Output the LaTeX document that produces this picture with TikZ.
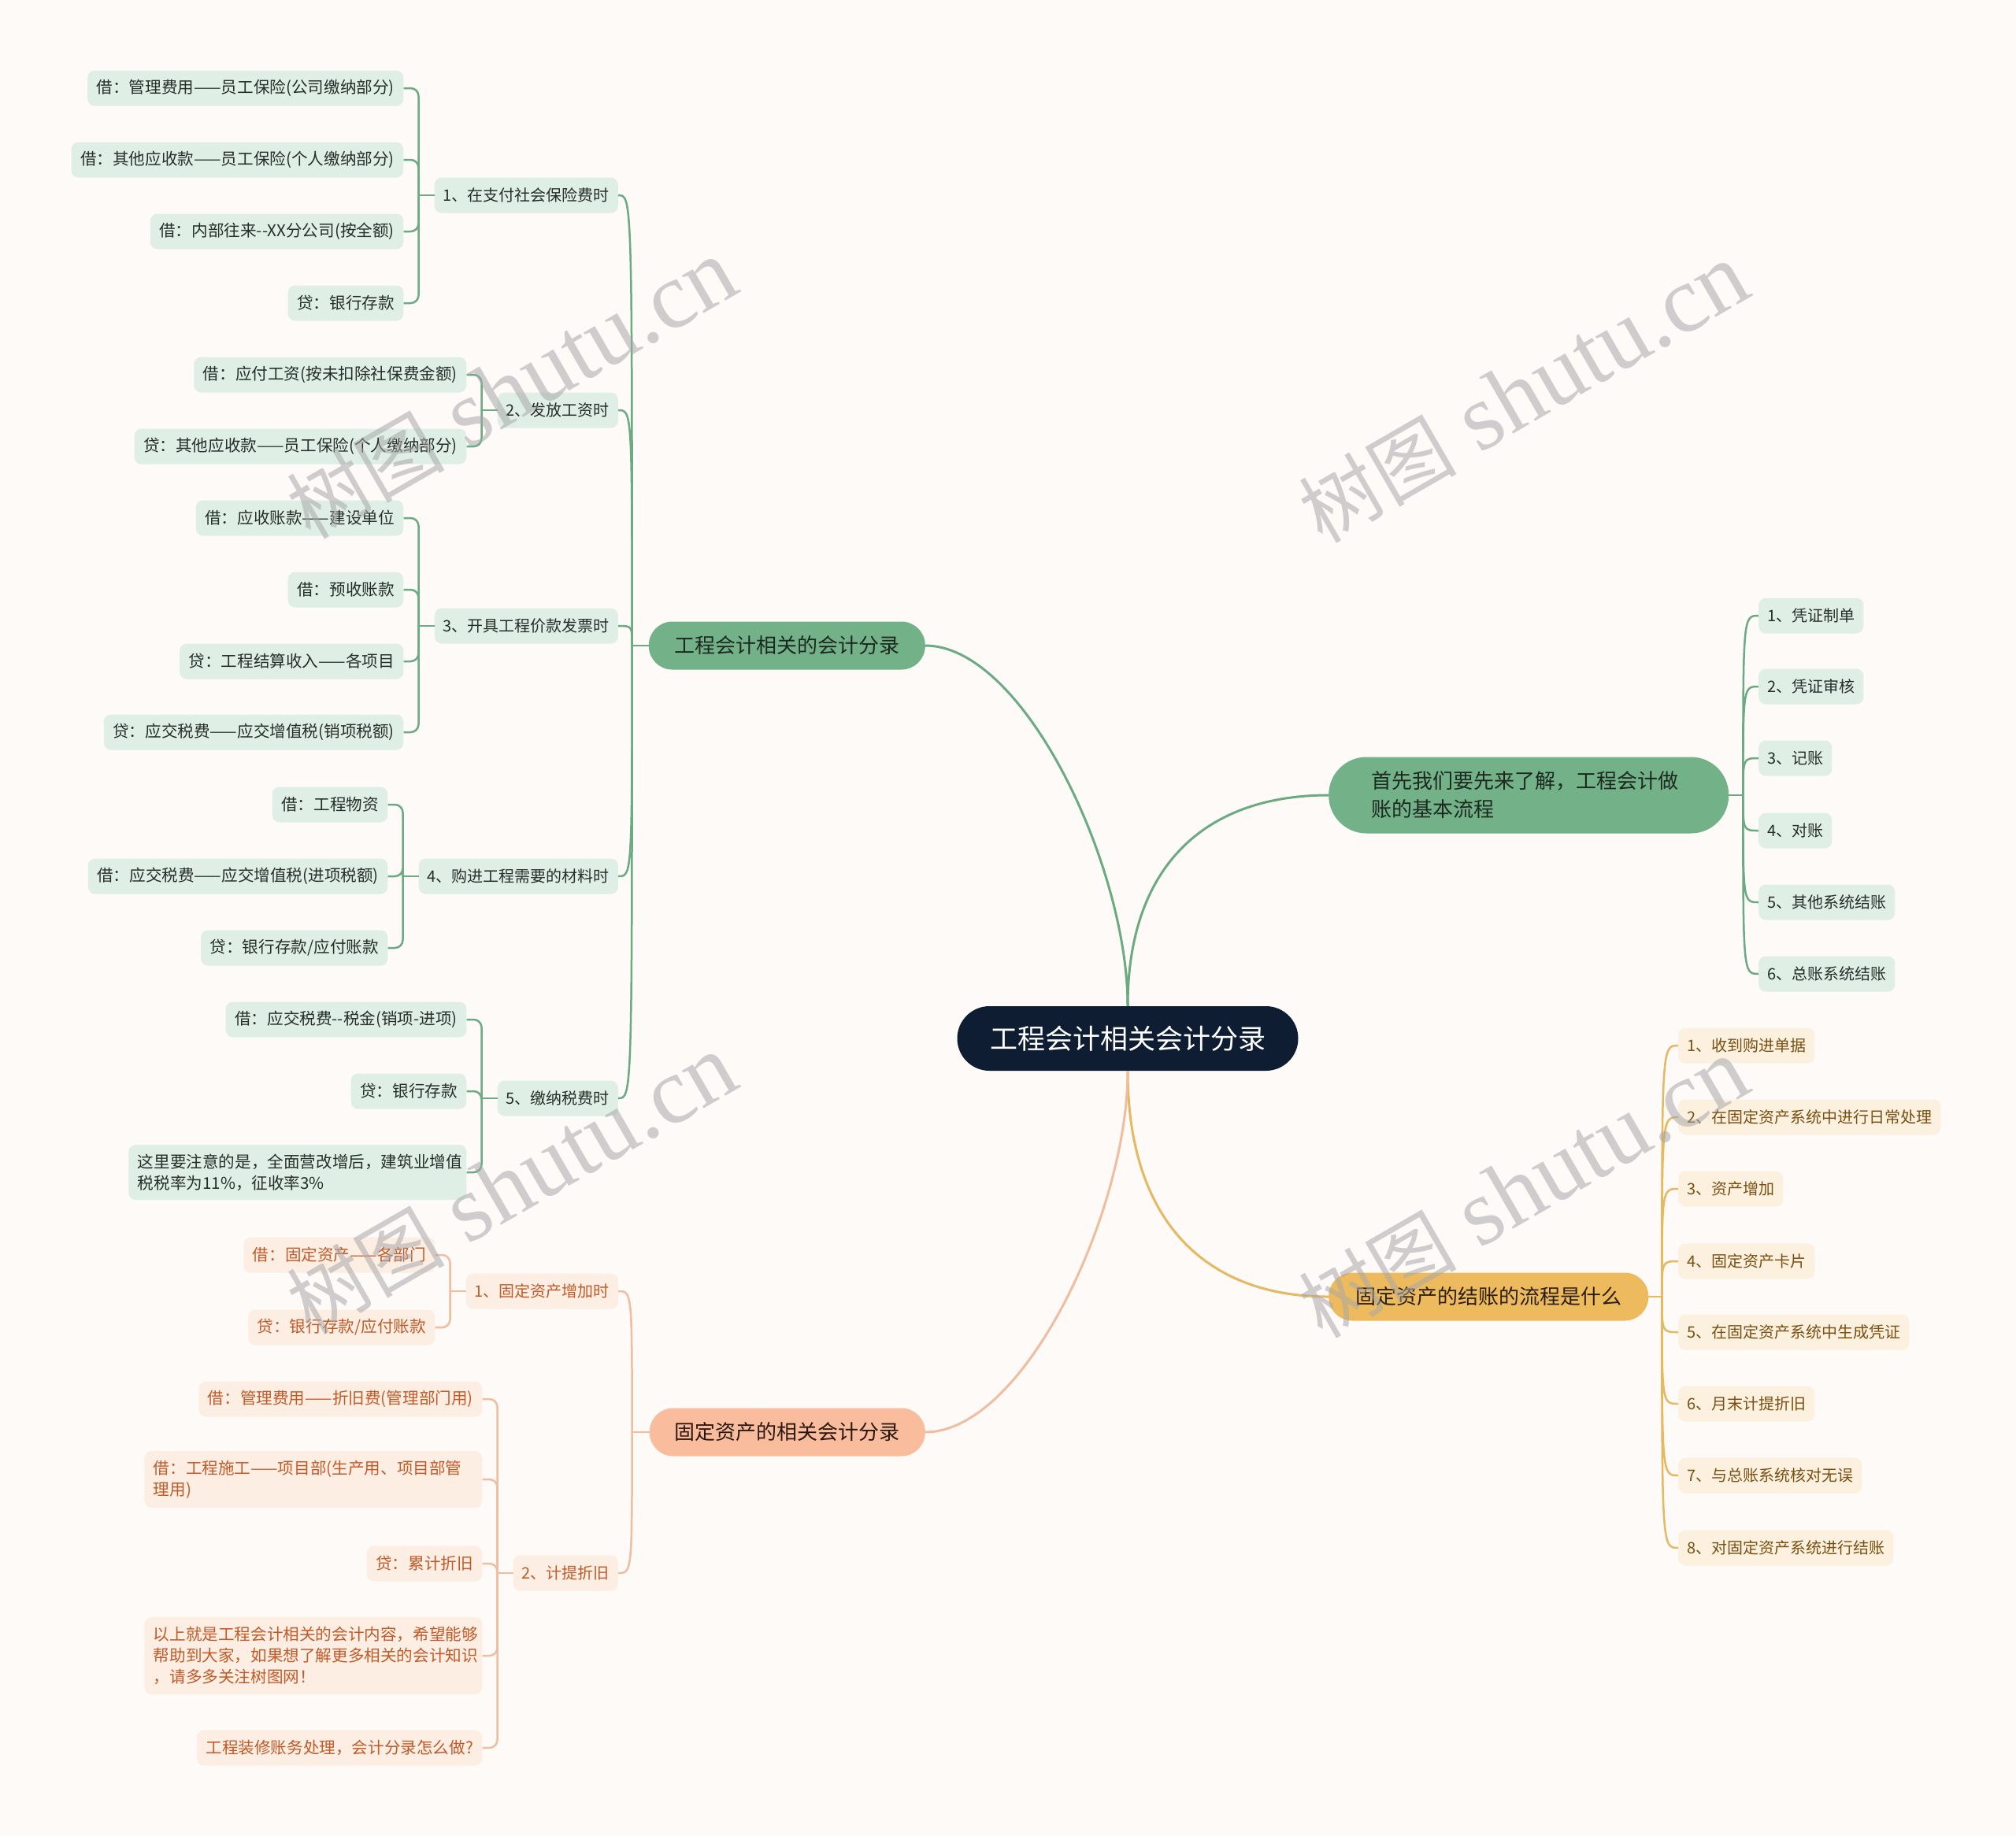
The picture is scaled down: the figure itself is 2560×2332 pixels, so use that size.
\documentclass[tikz,border=0pt]{standalone}
\usepackage{fontspec}
\setmainfont{Noto Sans CJK SC}
\newfontfamily\wmlatin{Liberation Serif}
\usetikzlibrary{calc}
\definecolor{bgc}{HTML}{FDFAF8}
\definecolor{rootc}{HTML}{0F1D33}
\definecolor{gfill}{HTML}{73B188}
\definecolor{gline}{HTML}{6CAA81}
\definecolor{gleaf}{HTML}{DFEFE5}
\definecolor{gtext}{HTML}{262D28}
\definecolor{gtone}{HTML}{1C2920}
\definecolor{yfill}{HTML}{EDBA5E}
\definecolor{yline}{HTML}{E6B861}
\definecolor{yleaf}{HTML}{FCF1DF}
\definecolor{ytext}{HTML}{7A4F12}
\definecolor{ytone}{HTML}{2A1F0F}
\definecolor{ofill}{HTML}{F9BD9D}
\definecolor{oline}{HTML}{F0BD9F}
\definecolor{oleaf}{HTML}{FDEEE4}
\definecolor{otext}{HTML}{C25A28}
\definecolor{otone}{HTML}{2A1810}
\definecolor{wmc}{HTML}{A8A8A8}
\tikzset{
  rootbox/.style={fill=rootc, text=white, font=\fontsize{35}{40}\selectfont, minimum width=433pt, minimum height=82pt, rounded corners=41pt, inner sep=0pt},
  lonebox/.style={font=\fontsize{26}{36}\selectfont, minimum height=61pt, rounded corners=30pt, inner xsep=10pt, inner ysep=0pt},
  gone/.style={lonebox, fill=gfill, text=gtone},
  yone/.style={lonebox, fill=yfill, text=ytone},
  oone/.style={lonebox, fill=ofill, text=otone},
  twobox/.style={font=\fontsize{20}{27}\selectfont, minimum height=45pt, rounded corners=9pt, inner xsep=11pt, inner ysep=3pt},
  leafbox/.style={twobox, font=\fontsize{20.6}{27}\selectfont, inner xsep=11.5pt, anchor=east},
  gtwo/.style={twobox, fill=gleaf, text=gtext},
  ytwo/.style={twobox, fill=yleaf, text=ytext},
  otwo/.style={twobox, fill=oleaf, text=otext},
  gleafbox/.style={leafbox, fill=gleaf, text=gtext},
  oleafbox/.style={leafbox, fill=oleaf, text=otext},
  multi/.style={align=left, text width=406pt},
  gcon/.style={draw=gline, line width=2.5pt},
  ycon/.style={draw=yline, line width=2.5pt},
  ocon/.style={draw=oline, line width=2.5pt},
  gmain/.style={draw=gline, line width=3pt},
  ymain/.style={draw=yline, line width=3pt},
  omain/.style={draw=oline, line width=3pt},
  wm/.style={text=wmc, text opacity=0.55, rotate=30, inner sep=0pt}
}
\begin{document}
\begin{tikzpicture}[x=1pt,y=-1pt]
\fill[bgc] (0,0) rectangle (2560,2332);
\useasboundingbox (0,0) rectangle (2560,2332);

% root and level one
\node[rootbox] (root) at (1432,1319) {工程会计相关会计分录};
\node[gone, minimum width=351pt, anchor=east] (A) at (1175,820) {工程会计相关的会计分录};
\node[gone, anchor=west, align=left, text width=400pt, inner xsep=54pt, minimum height=97pt, rounded corners=48pt] (B) at (1687,1010) {首先我们要先来了解，工程会计做\\账的基本流程};
\node[yone, minimum width=406pt, anchor=west] (C) at (1687,1647) {固定资产的结账的流程是什么};
\node[oone, minimum width=350pt, anchor=east] (D) at (1175,1819) {固定资产的相关会计分录};

% level two under A
\node[gtwo, anchor=east] (a1) at (785,248) {1、在支付社会保险费时};
\node[gtwo, anchor=east] (a2) at (785,521) {2、发放工资时};
\node[gtwo, anchor=east] (a3) at (785,795) {3、开具工程价款发票时};
\node[gtwo, anchor=east] (a4) at (785,1113) {4、购进工程需要的材料时};
\node[gtwo, anchor=east] (a5) at (785,1395) {5、缴纳税费时};

% leaves under a1
\node[gleafbox] (l11) at ($(a1.west |- 0,112)+(-39,0)$) {借：管理费用——员工保险(公司缴纳部分)};
\node[gleafbox] (l12) at ($(a1.west |- 0,203)+(-39,0)$) {借：其他应收款——员工保险(个人缴纳部分)};
\node[gleafbox] (l13) at ($(a1.west |- 0,294)+(-39,0)$) {借：内部往来-{}-XX分公司(按全额)};
\node[gleafbox] (l14) at ($(a1.west |- 0,385)+(-39,0)$) {贷：银行存款};
% leaves under a2
\node[gleafbox] (l21) at ($(a2.west |- 0,476)+(-39,0)$) {借：应付工资(按未扣除社保费金额)};
\node[gleafbox] (l22) at ($(a2.west |- 0,567)+(-39,0)$) {贷：其他应收款——员工保险(个人缴纳部分)};
% leaves under a3
\node[gleafbox] (l31) at ($(a3.west |- 0,658)+(-39,0)$) {借：应收账款——建设单位};
\node[gleafbox] (l32) at ($(a3.west |- 0,749)+(-39,0)$) {借：预收账款};
\node[gleafbox] (l33) at ($(a3.west |- 0,840)+(-39,0)$) {贷：工程结算收入——各项目};
\node[gleafbox] (l34) at ($(a3.west |- 0,930)+(-39,0)$) {贷：应交税费——应交增值税(销项税额)};
% leaves under a4
\node[gleafbox] (l41) at ($(a4.west |- 0,1022)+(-39,0)$) {借：工程物资};
\node[gleafbox] (l42) at ($(a4.west |- 0,1113)+(-39,0)$) {借：应交税费——应交增值税(进项税额)};
\node[gleafbox] (l43) at ($(a4.west |- 0,1204)+(-39,0)$) {贷：银行存款/应付账款};
% leaves under a5
\node[gleafbox] (l51) at ($(a5.west |- 0,1295)+(-39,0)$) {借：应交税费-{}-税金(销项-进项)};
\node[gleafbox] (l52) at ($(a5.west |- 0,1386)+(-39,0)$) {贷：银行存款};
\node[gleafbox, multi, minimum height=70pt] (l53) at ($(a5.west |- 0,1489)+(-39,0)$) {这里要注意的是，全面营改增后，建筑业增值\\税税率为11\%，征收率3\%};

% level two under B
\node[gtwo, anchor=west] (b1) at (2233,782) {1、凭证制单};
\node[gtwo, anchor=west] (b2) at (2233,872) {2、凭证审核};
\node[gtwo, anchor=west] (b3) at (2233,963) {3、记账};
\node[gtwo, anchor=west] (b4) at (2233,1055) {4、对账};
\node[gtwo, anchor=west] (b5) at (2233,1146) {5、其他系统结账};
\node[gtwo, anchor=west] (b6) at (2233,1237) {6、总账系统结账};

% level two under C
\node[ytwo, anchor=west] (c1) at (2131,1328) {1、收到购进单据};
\node[ytwo, anchor=west] (c2) at (2131,1419) {2、在固定资产系统中进行日常处理};
\node[ytwo, anchor=west] (c3) at (2131,1510) {3、资产增加};
\node[ytwo, anchor=west] (c4) at (2131,1602) {4、固定资产卡片};
\node[ytwo, anchor=west] (c5) at (2131,1692) {5、在固定资产系统中生成凭证};
\node[ytwo, anchor=west] (c6) at (2131,1783) {6、月末计提折旧};
\node[ytwo, anchor=west] (c7) at (2131,1874) {7、与总账系统核对无误};
\node[ytwo, anchor=west] (c8) at (2131,1966) {8、对固定资产系统进行结账};

% level two under D
\node[otwo, anchor=east] (d1) at (785,1640) {1、固定资产增加时};
\node[otwo, anchor=east] (d2) at (785,1998) {2、计提折旧};
\node[oleafbox] (m11) at ($(d1.west |- 0,1594)+(-39,0)$) {借：固定资产——各部门};
\node[oleafbox] (m12) at ($(d1.west |- 0,1686)+(-39,0)$) {贷：银行存款/应付账款};
\node[oleafbox] (m21) at ($(d2.west |- 0,1777)+(-39,0)$) {借：管理费用——折旧费(管理部门用)};
\node[oleafbox, multi, minimum height=72pt] (m22) at ($(d2.west |- 0,1879)+(-39,0)$) {借：工程施工——项目部(生产用、项目部管\\理用)};
\node[oleafbox] (m23) at ($(d2.west |- 0,1986)+(-39,0)$) {贷：累计折旧};
\node[oleafbox, multi, minimum height=98pt] (m24) at ($(d2.west |- 0,2103)+(-39,0)$) {以上就是工程会计相关的会计内容，希望能够\\帮助到大家，如果想了解更多相关的会计知识\\，请多多关注树图网！};
\node[oleafbox] (m25) at ($(d2.west |- 0,2220)+(-39,0)$) {工程装修账务处理，会计分录怎么做?};

% main connectors
\draw[gmain] (root.north) .. controls (1432,1100) and (1300,820) .. (A.east);
\draw[gmain] (root.north) .. controls (1432,1100) and (1530,1010) .. (B.west);
\draw[ymain] (root.south) .. controls (1432,1550) and (1530,1647) .. (C.west);
\draw[omain] (root.south) .. controls (1432,1540) and (1300,1819) .. (D.east);

% junctions
\coordinate (jA) at ($(A.west)+(-21,0)$);
\coordinate (jB) at ($(B.east)+(18,0)$);
\coordinate (jC) at ($(C.east)+(17,0)$);
\coordinate (jD) at ($(D.west)+(-22,0)$);
\draw[gcon] (A.west) -- (jA);
\draw[gcon] (B.east) -- (jB);
\draw[ycon] (C.east) -- (jC);
\draw[ocon] (D.west) -- (jD);
\foreach \c in {a1,a2,a3,a4,a5}
  \draw[gcon] (jA) .. controls (jA |- \c.east) and (jA |- \c.east) .. (\c.east);
\foreach \c in {b1,b2,b3,b4,b5,b6}
  \draw[gcon] (jB) .. controls (jB |- \c.west) and (jB |- \c.west) .. (\c.west);
\foreach \c in {c1,c2,c3,c4,c5,c6,c7,c8}
  \draw[ycon] (jC) .. controls (jC |- \c.west) and (jC |- \c.west) .. (\c.west);
\foreach \c in {d1,d2}
  \draw[ocon] (jD) .. controls (jD |- \c.east) and (jD |- \c.east) .. (\c.east);

% brackets to leaves
\foreach \p/\ls in {a1/{l11,l12,l13,l14}, a2/{l21,l22}, a3/{l31,l32,l33,l34}, a4/{l41,l42,l43}, a5/{l51,l52,l53}}{
  \coordinate (k\p) at ($(\p.west)+(-20,0)$);
  \draw[gcon] (\p.west) -- (k\p);
  \foreach \l in \ls \draw[gcon, rounded corners=10pt] (\l.east) -| (k\p);
}
\foreach \p/\ls in {d1/{m11,m12}, d2/{m21,m22,m23,m24,m25}}{
  \coordinate (k\p) at ($(\p.west)+(-20,0)$);
  \draw[ocon] (\p.west) -- (k\p);
  \foreach \l in \ls \draw[ocon, rounded corners=10pt] (\l.east) -| (k\p);
}

% watermarks
\node[wm] (w1) at (650,495) {\fontsize{100}{110}\selectfont 树图\wmlatin\fontsize{120}{130}\selectfont\ shutu.cn};
\node[wm] (w2) at (1935,500) {\fontsize{100}{110}\selectfont 树图\wmlatin\fontsize{120}{130}\selectfont\ shutu.cn};
\node[wm] (w3) at (650,1505) {\fontsize{100}{110}\selectfont 树图\wmlatin\fontsize{120}{130}\selectfont\ shutu.cn};
\node[wm] (w4) at (1935,1510) {\fontsize{100}{110}\selectfont 树图\wmlatin\fontsize{120}{130}\selectfont\ shutu.cn};
\end{tikzpicture}
\end{document}
